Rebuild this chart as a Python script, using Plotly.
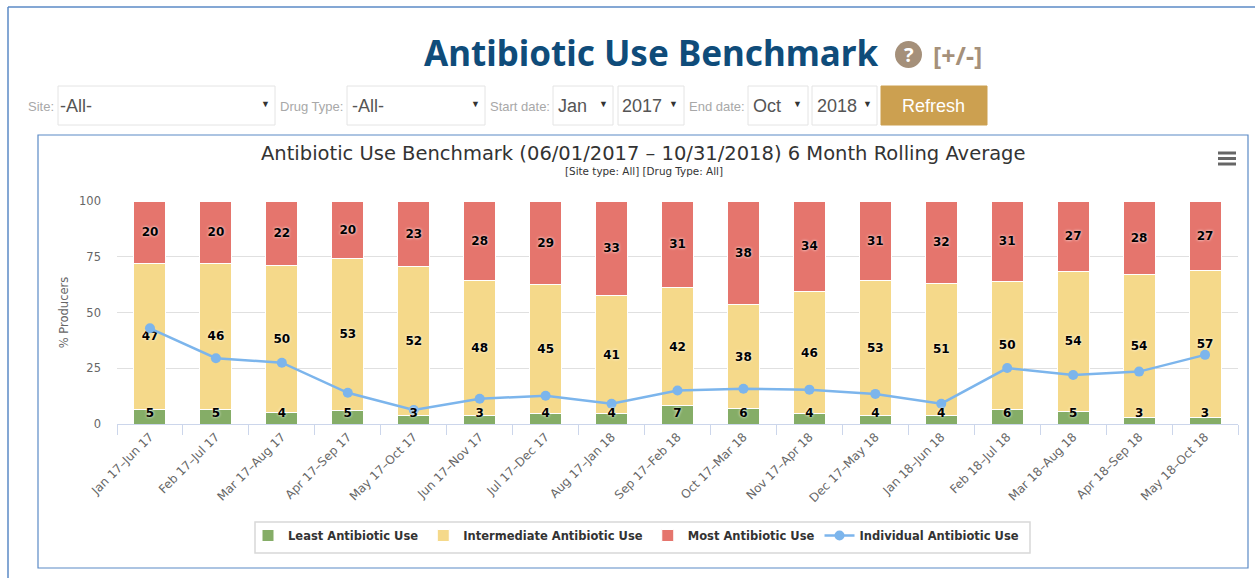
import plotly.graph_objects as go

W, H = 1255, 578
L, R, T, B = 117, 1238, 201, 424

periods = ["Jan 17–Jun 17", "Feb 17–Jul 17", "Mar 17–Aug 17", "Apr 17–Sep 17", "May 17–Oct 17",
           "Jun 17–Nov 17", "Jul 17–Dec 17", "Aug 17–Jan 18", "Sep 17–Feb 18", "Oct 17–Mar 18",
           "Nov 17–Apr 18", "Dec 17–May 18", "Jan 18–Jun 18", "Feb 18–Jul 18", "Mar 18–Aug 18",
           "Apr 18–Sep 18", "May 18–Oct 18"]
least = [6.6, 6.6, 5.0, 6.2, 3.7, 3.7, 4.6, 4.6, 8.5, 7.0, 4.6, 4.0, 4.0, 6.6, 5.5, 3.0, 3.0]
intermediate = [65.4, 65.4, 66.0, 68.1, 66.8, 60.8, 57.9, 52.9, 52.5, 46.5, 54.7, 60.5, 59.0, 57.4, 63.0, 64.0, 66.0]
most = [28.0, 28.0, 29.0, 25.7, 29.5, 35.5, 37.5, 42.5, 39.0, 46.5, 40.7, 35.5, 37.0, 36.0, 31.5, 33.0, 31.0]
individual = [42.9, 29.5, 27.5, 14.0, 6.3, 11.3, 12.7, 9.1, 15.0, 15.8, 15.4, 13.5, 9.1, 25.1, 22.0, 23.5, 31.0]
least_labels = [5, 5, 4, 5, 3, 3, 4, 4, 7, 6, 4, 4, 4, 6, 5, 3, 3]
intermediate_labels = [47, 46, 50, 53, 52, 48, 45, 41, 42, 38, 46, 53, 51, 50, 54, 54, 57]
most_labels = [20, 20, 22, 20, 23, 28, 29, 33, 31, 38, 34, 31, 32, 31, 27, 28, 27]

GREEN, YELLOW, RED, BLUE = "#85ad67", "#f5d98a", "#e5756d", "#7cb5ec"
FONT = "DejaVu Sans"
label_font = dict(family=FONT, size=12, color="#000000", weight="bold", shadow="0 0 3px #ffffff")


def px(x):
    return (x - L) / (R - L)


def py(y):
    return (B - y) / (B - T)


fig = go.Figure()
for name, vals, color, labels in [
    ("Least Antibiotic Use", least, GREEN, None),
    ("Intermediate Antibiotic Use", intermediate, YELLOW, intermediate_labels),
    ("Most Antibiotic Use", most, RED, most_labels),
]:
    fig.add_trace(go.Bar(
        name=name, x=periods, y=vals, marker=dict(color=color, line=dict(color="#ffffff", width=1)),
        text=labels, textposition="inside" if labels else "none", insidetextanchor="middle",
        textangle=0, constraintext="none", insidetextfont=label_font, hoverinfo="skip",
    ))
fig.add_trace(go.Scatter(
    name="Individual Antibiotic Use", x=periods, y=individual, mode="lines+markers",
    line=dict(color=BLUE, width=2.5), marker=dict(color=BLUE, size=10), hoverinfo="skip",
))
fig.add_trace(go.Scatter(
    x=periods, y=[4.6] * len(periods), mode="text", text=least_labels, textposition="middle center",
    textfont=label_font, showlegend=False, hoverinfo="skip",
))


def box(x0, y0, x1, y1, line="#e4e4e4", fill="#ffffff", width=1):
    return dict(type="rect", xref="paper", yref="paper", x0=px(x0), x1=px(x1), y0=py(y0), y1=py(y1),
                line=dict(color=line, width=width), fillcolor=fill, layer="below")


def seg(x0, y0, x1, y1, color, width):
    return dict(type="line", xref="paper", yref="paper", x0=px(x0), x1=px(x1), y0=py(y0), y1=py(y1),
                line=dict(color=color, width=width))


def txt(x, y, s, size, color, family="Liberation Sans", anchor="left", weight=None):
    return dict(xref="paper", yref="paper", x=px(x), y=py(y), text=s, showarrow=False, xanchor=anchor,
                yanchor="middle", font=dict(family=family, size=size, color=color, weight=weight))


FRAME = "#5b8ac6"
shapes = [
    seg(8, 7, 1255, 7, FRAME, 1.5), seg(8, 7, 8, 578, FRAME, 1.5),
    box(38, 135, 1248, 568, FRAME, "#ffffff", 1.2),
    box(58, 86, 275, 125), box(347, 86, 485, 125), box(553, 86, 613, 125), box(618, 86, 684, 125),
    box(748, 86, 808, 125), box(812, 86, 877, 125),
    box(881, 86, 987, 125, "#cca050", "#cca050"),
    box(255, 522, 1030, 553, "#d8d8d8", "#ffffff", 1.5),
    dict(type="circle", xref="paper", yref="paper", x0=px(895), x1=px(922), y0=py(41), y1=py(68),
         fillcolor="#a5907a", line=dict(width=0)),
    seg(1218, 153, 1236, 153, "#666666", 3), seg(1218, 158.5, 1236, 158.5, "#666666", 3),
    seg(1218, 164, 1236, 164, "#666666", 3),
]
GR = "#a8a8a8"
DK = "#555555"
annots = [
    txt(651, 52, "Antibiotic Use Benchmark", 35, "#0f4c7a", "Noto Sans", "center", "bold"),
    txt(908.5, 54, "?", 20, "#ffffff", "Noto Sans", "center", "bold"),
    txt(957, 55, "[+/-]", 25, "#a5907a", "Noto Sans", "center", "bold"),
    txt(26, 107, "Site:", 13, GR), txt(58, 106, "-All-", 18, DK), txt(265, 104, "▼", 9, "#333333", anchor="center"),
    txt(278, 107, "Drug Type:", 13, GR), txt(350, 106, "-All-", 18, DK), txt(475, 104, "▼", 9, "#333333", anchor="center"),
    txt(488, 107, "Start date:", 13, GR), txt(556, 106, "Jan", 18, DK), txt(603, 104, "▼", 9, "#333333", anchor="center"),
    txt(620, 106, "2017", 18, DK), txt(673, 104, "▼", 9, "#333333", anchor="center"),
    txt(687, 107, "End date:", 13, GR), txt(751, 106, "Oct", 18, DK), txt(797, 104, "▼", 9, "#333333", anchor="center"),
    txt(815, 106, "2018", 18, DK), txt(867, 104, "▼", 9, "#333333", anchor="center"),
    txt(934, 106, "Refresh", 18, "#ffffff", "Liberation Sans", "center"),
    txt(643.5, 153, "Antibiotic Use Benchmark (06/01/2017 – 10/31/2018) 6 Month Rolling Average", 19.5, "#333333", FONT, "center"),
    txt(643.5, 171, "[Site type: All] [Drug Type: All]", 10.4, "#333333", FONT, "center"),
]

fig.update_layout(
    width=W, height=H, margin=dict(l=L, r=W - R, t=T, b=H - B), barmode="stack", bargap=0.515,
    paper_bgcolor="#ffffff", plot_bgcolor="rgba(0,0,0,0)", shapes=shapes, annotations=annots,
    font=dict(family=FONT),
    xaxis=dict(range=[-0.5, 16.5], type="category", categoryorder="array",
               categoryarray=periods, tickson="boundaries", ticks="outside", ticklen=10, tickcolor="#ccd6eb",
               showline=True, linecolor="#ccd6eb", linewidth=1.2, tickangle=-45, showgrid=False,
               tickfont=dict(family=FONT, size=12, color="#666666")),
    yaxis=dict(range=[0, 100], tickvals=[0, 25, 50, 75, 100], gridcolor="#e0e0e0", gridwidth=1.2,
               zeroline=False, ticks="", ticklabelstandoff=15, tickfont=dict(family=FONT, size=11.5, color="#666666"),
               title=dict(text="% Producers", font=dict(family=FONT, size=11.5, color="#666666"), standoff=8)),
    legend=dict(orientation="h", x=px(248), y=py(521), xanchor="left", yanchor="top", bgcolor="rgba(0,0,0,0)",
                borderwidth=0, traceorder="normal",
                font=dict(family=FONT, size=11.5, color="#333333", weight="bold")),
)
fig.write_html("out.html", config=dict(displayModeBar=False),
               post_script="document.body.style.margin='0';document.body.style.overflow='hidden';")
